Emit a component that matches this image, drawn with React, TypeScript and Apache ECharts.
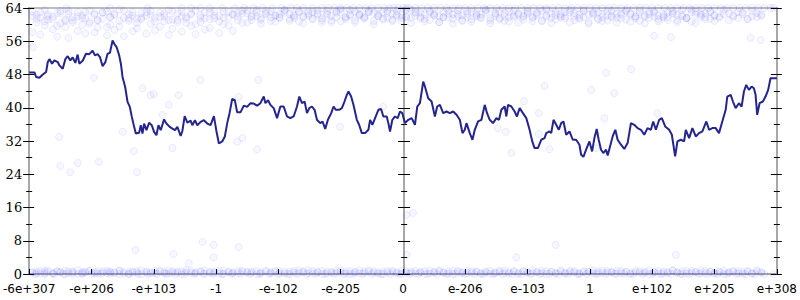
import React, { useEffect, useRef } from "react";
import * as echarts from "echarts";

// X axis tick labels (positions 0..12)
const X_LABELS = ["-6e+307", "-e+206", "-e+103", "-1", "-e-102", "-e-205", "0", "e-206", "e-103", "1", "e+102", "e+205", "e+308"];
const Y_MIN = 0;
const Y_MAX = 64;
const Y_STEP = 8;

// Dark line, in segments of [x, y]
const lineSeg1: number[][] = [
  [0, 48.5], [0.085, 48.5], [0.112, 47.4], [0.165, 47.2], [0.219, 48], [0.272, 48.6], [0.299, 51], [0.325, 51.7], [0.368, 50.6], [0.405, 51.4],
  [0.459, 51], [0.485, 50.2], [0.539, 49.4], [0.581, 51.7], [0.619, 52.4], [0.661, 51.4], [0.699, 52.1], [0.741, 50.8], [0.779, 52.8], [0.805, 50.6],
  [0.859, 51.3], [0.912, 53], [0.965, 52.9], [1.019, 53.7], [1.056, 52.6], [1.099, 52.9], [1.136, 52.2], [1.179, 50], [1.221, 50.9], [1.259, 53],
  [1.296, 53.2], [1.339, 56.2], [1.365, 55.4], [1.403, 54.6], [1.445, 52.6], [1.472, 50.6], [1.499, 47.4], [1.541, 45], [1.579, 41.4], [1.616, 40.2],
  [1.648, 37.8], [1.685, 35.4], [1.712, 33.8], [1.765, 34], [1.792, 35.8], [1.819, 33.8], [1.845, 36.2], [1.883, 34.6], [1.925, 36.4], [1.968, 35.8],
  [2.005, 34.2], [2.043, 33.4], [2.075, 35.8], [2.112, 34.6], [2.165, 37.2], [2.203, 36.2], [2.256, 35.4], [2.299, 35], [2.341, 34.6], [2.379, 35.4],
  [2.432, 33.2], [2.459, 34.4], [2.496, 38], [2.539, 36.4], [2.592, 36.9], [2.619, 35.8], [2.661, 37], [2.699, 35.8], [2.752, 36.6], [2.805, 37],
  [2.859, 36.2], [2.912, 35.8], [2.965, 38], [3.003, 34.6], [3.045, 31.4],
];
const lineSeg2: number[][] = [
  [3.099, 31.9], [3.141, 33.1], [3.179, 36.3], [3.216, 38.7], [3.259, 42.1], [3.301, 41.8], [3.339, 38.9], [3.392, 38.9], [3.445, 40.5], [3.499, 40.2],
  [3.552, 41.1], [3.605, 41], [3.659, 40.5], [3.712, 41.1], [3.765, 42.7], [3.792, 41.1], [3.835, 41.8], [3.872, 40.7], [3.925, 39.9], [3.979, 37.5],
  [4.032, 40.3], [4.085, 40.3], [4.139, 37.9], [4.192, 37.5], [4.245, 37.9], [4.299, 40.3], [4.336, 42.7], [4.379, 41.1], [4.421, 41.5], [4.459, 38.7],
  [4.496, 39.9], [4.539, 40.3], [4.581, 39.5], [4.619, 37.1], [4.672, 36.3], [4.709, 36.7], [4.752, 34.9], [4.795, 37.1], [4.848, 38.7], [4.885, 40.3],
  [4.923, 39.5], [4.976, 39.5], [5.019, 39.9], [5.061, 41.5], [5.099, 43.1], [5.125, 43.9], [5.168, 42.7], [5.205, 40.7], [5.259, 37.1], [5.296, 35.9],
  [5.339, 33.9], [5.392, 33.9], [5.445, 34.7], [5.472, 37.1], [5.509, 35.9], [5.552, 37.5], [5.605, 39.5], [5.648, 39.7], [5.685, 37.9], [5.739, 37.9],
  [5.765, 36.3], [5.792, 34.3], [5.829, 37.1], [5.872, 37.9], [5.915, 37.5], [5.952, 39.1], [5.989, 38.7],
];
const lineSeg3: number[][] = [
  [6.032, 36.3], [6.085, 37.1], [6.139, 37.5], [6.192, 35.9], [6.229, 40.3], [6.272, 41.1], [6.325, 46.3], [6.352, 45.1], [6.405, 42.3], [6.459, 41.5],
  [6.512, 37.9], [6.549, 40.3], [6.592, 40.7], [6.645, 38.7], [6.699, 39.1], [6.752, 38.7], [6.805, 39.1], [6.859, 38.3], [6.912, 37.1], [6.955, 33.9],
  [6.992, 34.7], [7.019, 36.3], [7.072, 33.9], [7.115, 32.3], [7.152, 34.7], [7.205, 36.7], [7.259, 37.1], [7.312, 40.7], [7.349, 38.7], [7.392, 37.1],
  [7.445, 36.3], [7.499, 37.5], [7.541, 37.1], [7.579, 39.5], [7.632, 40.3], [7.659, 37.9], [7.685, 40.7], [7.739, 40.3], [7.792, 39.1], [7.829, 37.9],
  [7.872, 39.9], [7.925, 38.7], [7.979, 37.5], [8.032, 34.7], [8.075, 31.9], [8.112, 30.3], [8.165, 30.3], [8.219, 32.3], [8.272, 32.7], [8.299, 33.9],
  [8.352, 34.3], [8.379, 33.9], [8.416, 37.1], [8.459, 35.9], [8.501, 34.7], [8.539, 36.3], [8.576, 36.7], [8.619, 33.5], [8.672, 34.3], [8.725, 32.3],
  [8.779, 32.3], [8.832, 31.1], [8.859, 28.7], [8.896, 28.2], [8.939, 29.9], [8.992, 31.9], [9.035, 29.5], [9.072, 32.7],
];
const lineSeg4: number[][] = [
  [9.109, 34.9], [9.141, 32.3], [9.179, 29.9], [9.216, 29.1], [9.259, 29.9], [9.285, 28.5], [9.323, 30.7], [9.365, 33.1], [9.408, 34.7], [9.445, 32.3],
  [9.499, 31.1], [9.552, 30.1], [9.605, 31.5], [9.659, 36.3], [9.712, 35.9], [9.765, 35.1], [9.819, 34.7], [9.872, 33.5], [9.925, 35.1], [9.979, 34.7],
  [10.016, 36.7], [10.059, 34.7], [10.112, 37.1], [10.155, 37.5], [10.208, 35.5], [10.272, 34.7], [10.315, 33.5], [10.368, 28.3], [10.405, 31.9], [10.459, 32.3],
  [10.512, 31.9], [10.539, 34.7], [10.592, 32.7], [10.645, 35.1], [10.699, 33.1], [10.752, 33.9], [10.805, 34.3], [10.869, 36.7], [10.912, 34.7], [10.965, 35.1],
  [11.019, 35.1], [11.072, 33.9], [11.125, 36.7], [11.179, 39.5], [11.205, 42.7], [11.259, 43.1], [11.296, 41.5], [11.339, 39.9], [11.392, 41.1], [11.435, 40.3],
  [11.472, 43.9], [11.509, 45.5], [11.552, 44.3], [11.595, 45.1], [11.632, 44.7], [11.659, 43.1], [11.685, 38.3], [11.723, 41.1], [11.776, 41.5], [11.819, 42.7],
  [11.861, 44.3], [11.899, 47.1], [11.952, 47.1], [12, 47.1],
];

// Faint scatter cloud: x positions shared by the band rows
const bandX = [
  0.05, 0.12, 0.18, 0.25, 0.3, 0.38, 0.45, 0.5, 0.58, 0.63, 0.7, 0.78, 0.85, 0.9, 0.97, 1.05, 1.1, 1.18, 1.25, 1.3,
  1.37, 1.45, 1.52, 1.6, 1.66, 1.73, 1.8, 1.88, 1.95, 2.02, 2.1, 2.17, 2.24, 2.3, 2.38, 2.45, 2.52, 2.6, 2.67, 2.75,
  2.82, 2.9, 2.97, 3.05, 3.12, 3.2, 3.27, 3.35, 3.42, 3.5, 3.57, 3.65, 3.72, 3.8, 3.88, 3.95, 4.02, 4.1, 4.18, 4.25,
  4.33, 4.4, 4.48, 4.55, 4.63, 4.7, 4.78, 4.85, 4.93, 5.0, 5.08, 5.15, 5.23, 5.3, 5.38, 5.45, 5.53, 5.6, 5.68, 5.75,
  5.83, 5.9, 5.98, 6.05, 6.13, 6.2, 6.28, 6.35, 6.43, 6.5, 6.58, 6.65, 6.73, 6.8, 6.88, 6.95, 7.03, 7.1, 7.18, 7.25,
  7.33, 7.4, 7.48, 7.55, 7.63, 7.7, 7.78, 7.85, 7.93, 8.0, 8.08, 8.15, 8.23, 8.3, 8.38, 8.45, 8.53, 8.6, 8.68, 8.75,
  8.83, 8.9, 8.98, 9.05, 9.13, 9.2, 9.28, 9.35, 9.43, 9.5, 9.58, 9.65, 9.73, 9.8, 9.88, 9.95, 10.03, 10.1, 10.18, 10.25,
  10.33, 10.4, 10.48, 10.55, 10.63, 10.7, 10.78, 10.85, 10.93, 11.0, 11.08, 11.15, 11.23, 11.3, 11.38, 11.45, 11.53, 11.6, 11.68, 11.75,
];
const topBandA = [
  62.1, 61.4, 63.0, 60.8, 62.5, 61.9, 59.7, 62.8, 61.2, 63.3, 60.5, 62.0, 61.6, 63.1, 60.2, 62.4, 61.0, 62.9, 59.4, 61.8,
  62.6, 60.9, 63.4, 61.5, 62.2, 60.4, 61.7, 63.0, 62.3, 60.7, 61.9, 62.7, 61.1, 63.2, 60.6, 62.0, 61.4, 62.8, 60.1, 61.6,
  62.9, 61.3, 62.2, 60.8, 63.1, 61.7, 62.4, 61.0, 62.6, 60.5, 61.9, 63.0, 61.2, 62.5, 60.9, 62.1, 61.6, 62.9, 61.4, 62.3,
  60.7, 62.0, 63.2, 61.5, 62.7, 61.1, 62.4, 60.6, 61.8, 62.9, 61.3, 62.2, 61.0, 62.6, 61.7, 63.0, 60.9, 62.1, 61.5, 62.8,
  61.2, 62.4, 60.8, 62.0, 61.6, 63.1, 61.9, 62.5, 61.1, 62.2, 60.6, 61.8, 62.7, 61.4, 62.0, 60.9, 62.6, 61.3, 62.3, 61.7,
  62.9, 61.0, 62.1, 61.5, 62.8, 60.7, 61.9, 62.4, 61.2, 62.6, 61.6, 62.2, 60.8, 61.9, 62.7, 61.3, 62.0, 61.5, 62.9, 61.1,
  62.4, 61.8, 60.6, 62.3, 61.4, 62.7, 61.0, 62.1, 61.7, 62.8, 61.2, 62.5, 61.9, 60.9, 62.2, 61.6, 62.9, 61.3, 62.0, 61.8,
  62.6, 61.1, 62.3, 61.5, 60.7, 62.4, 61.9, 62.8, 61.4, 62.1, 61.7, 62.5, 61.0, 62.2, 61.6, 62.9, 61.3, 62.0, 61.8, 62.4,
];
const topBandB = [
  58.2, 60.5, 57.6, 59.8, 61.2, 58.9, 57.1, 60.3, 59.4, 56.8, 61.0, 58.5, 59.9, 57.9, 60.7, 58.1, 59.3, 61.4, 57.4, 60.0,
  58.7, 59.6, 57.2, 60.9, 58.4, 59.1, 61.3, 57.8, 60.2, 58.6, 59.5, 60.8, 57.5, 59.0, 61.1, 58.3, 60.4, 59.7, 57.7, 60.6,
  58.8, 59.2, 61.5, 58.0, 60.1, 59.8, 58.5, 62.8, 60.4, 63.5, 61.1, 62.0, 60.2, 63.3, 61.8, 60.7, 62.5, 63.6, 60.9, 61.6,
  63.0, 60.3, 62.2, 61.3, 63.4, 60.6, 62.7, 61.0, 63.2, 60.8, 61.9, 63.5, 60.5, 62.4, 61.4, 63.1, 60.1, 62.6, 61.2, 63.3,
  60.9, 62.1, 61.7, 63.6, 60.4, 62.9, 61.5, 60.8, 63.0, 62.3, 60.6, 61.8, 63.4, 60.2, 62.5, 61.1, 63.2, 60.7, 62.0, 61.6,
  63.5, 60.3, 62.8, 61.3, 60.9, 63.1, 62.2, 60.5, 61.9, 63.3, 60.8, 62.6, 61.0, 63.6, 60.4, 62.3, 61.7, 63.0, 60.6, 62.1,
  61.4, 63.4, 60.2, 62.7, 61.2, 60.9, 63.2, 61.8, 60.5, 62.4, 63.5, 60.7, 61.5, 62.9, 60.3, 63.1, 61.9, 60.8, 62.5, 61.1,
  63.3, 60.6, 62.0, 61.6, 63.6, 60.4, 62.8, 61.3, 63.0, 60.9,
];
const topBandC = [
  63.1, 62.4, 61.7, 63.5, 62.0, 61.3, 62.8, 63.3, 60.9, 62.6, 61.8, 63.0, 62.2, 61.5, 63.4, 62.7, 61.1, 62.9, 63.2, 61.9,
  62.3, 63.6, 61.6, 62.5, 63.0, 61.4, 62.8, 62.1, 63.3, 61.7, 62.9, 62.0, 63.5, 61.2, 62.6, 63.1, 61.8, 62.4, 63.4, 62.2,
  61.5, 62.9, 63.2, 62.0, 61.7, 63.0, 62.5, 61.9, 63.3, 62.7, 62.1, 63.5, 61.6, 62.8, 63.1, 62.3, 61.8, 63.4, 62.6, 62.0,
  63.2, 61.9, 62.7, 63.0, 62.4, 61.5, 63.3, 62.1, 62.9, 63.6, 61.7, 62.5, 63.1, 62.2, 61.9, 63.4, 62.8, 62.0, 63.0, 61.6,
  62.6, 63.3, 62.3, 61.8, 63.5, 62.1, 62.9, 61.4, 63.2, 62.7, 62.0, 63.0, 61.7, 62.5, 63.4, 62.2, 61.9, 63.1, 62.8, 62.4,
  63.6, 61.5, 62.7, 63.2, 62.0, 61.8, 63.3, 62.6, 62.1, 63.0, 61.9, 62.9, 63.4, 62.3, 61.6, 63.1, 62.5, 62.0, 63.5, 62.8,
  61.7, 63.2, 62.4, 62.9, 63.0, 61.8, 62.2, 63.3, 62.6, 61.5, 63.1, 62.7, 62.0, 63.4, 61.9, 62.5, 63.2, 62.1, 61.7, 63.0,
  62.8, 62.3, 63.5, 61.6, 62.9, 63.1, 62.4, 61.8, 63.3, 62.2, 62.0, 63.6, 62.7, 61.9, 63.0, 62.5, 61.4, 63.2, 62.8, 62.1,
];
const bottomBandA = [
  0.3, 0.6, 0.1, 0.8, 0.4, 0.2, 0.7, 0.5, 0.0, 0.6, 0.4, 0.9, 0.2, 0.5, 0.7, 0.1, 0.6, 0.3, 0.8, 0.4,
  0.2, 0.7, 0.5, 0.0, 0.6, 0.3, 0.9, 0.4, 0.1, 0.7, 0.5, 0.2, 0.8, 0.3, 0.6, 0.0, 0.4, 0.7, 0.2, 0.5,
  0.9, 0.3, 0.6, 0.1, 0.8, 0.4, 0.2, 0.7, 0.5, 0.3, 0.6, 0.0, 0.4, 0.8, 0.2, 0.5, 0.7, 0.1, 0.6, 0.3,
  0.9, 0.4, 0.2, 0.7, 0.5, 0.0, 0.6, 0.3, 0.8, 0.4, 0.1, 0.7, 0.5, 0.2, 0.6, 0.9, 0.3, 0.4, 0.0, 0.7,
  0.5, 0.2, 0.8, 0.3, 0.6, 0.1, 0.4, 0.7, 0.2, 0.5, 0.9, 0.3, 0.6, 0.0, 0.8, 0.4, 0.2, 0.7, 0.5, 0.3,
  0.6, 0.1, 0.4, 0.8, 0.2, 0.5, 0.7, 0.0, 0.6, 0.3, 0.9, 0.4, 0.2, 0.7, 0.5, 0.1, 0.6, 0.3, 0.8, 0.4,
  0.0, 0.7, 0.5, 0.2, 0.6, 0.9, 0.3, 0.4, 0.1, 0.7, 0.5, 0.2, 0.8, 0.3, 0.6, 0.0, 0.4, 0.7, 0.2, 0.5,
  0.9, 0.3, 0.6, 0.1, 0.8, 0.4, 0.2, 0.7, 0.5, 0.3, 0.6, 0.0, 0.4, 0.8, 0.2, 0.5, 0.7, 0.1, 0.6, 0.3,
];
const bottomBandB = [
  0.5, 0.2, 0.7, 0.3, 0.9, 0.1, 0.6, 0.4, 0.8, 0.2, 0.6, 0.0, 0.5, 0.3, 0.8, 0.4, 0.1, 0.7, 0.2, 0.6,
  0.4, 0.9, 0.1, 0.5, 0.3, 0.7, 0.0, 0.6, 0.4, 0.2, 0.8, 0.5, 0.1, 0.7, 0.3, 0.6, 0.9, 0.2, 0.4, 0.7,
  0.1, 0.5, 0.3, 0.8, 0.0, 0.6, 0.4, 0.2, 0.9, 0.5, 0.3, 0.7, 0.1, 0.6, 0.4, 0.8, 0.2, 0.5, 0.0, 0.7,
  0.3, 0.6, 0.9, 0.1, 0.4, 0.7, 0.2, 0.5, 0.3, 0.8, 0.6, 0.0, 0.4, 0.9, 0.2, 0.5, 0.7, 0.1, 0.6, 0.3,
  0.8, 0.4, 0.1, 0.6, 0.2, 0.7, 0.5, 0.0, 0.9, 0.3, 0.6, 0.4, 0.1, 0.8, 0.5, 0.2, 0.7, 0.3, 0.6, 0.0,
  0.4, 0.8, 0.2, 0.5, 0.9, 0.1, 0.6, 0.3, 0.7, 0.4, 0.2, 0.5, 0.8, 0.0, 0.6, 0.3, 0.9, 0.1, 0.5, 0.7,
  0.2, 0.4, 0.6, 0.9, 0.1, 0.3, 0.7, 0.5, 0.8, 0.2, 0.6, 0.0, 0.4, 0.7, 0.3, 0.9, 0.5, 0.1, 0.6, 0.2,
  0.8, 0.4, 0.0, 0.7, 0.3, 0.5, 0.9, 0.2, 0.6, 0.1, 0.4, 0.8, 0.3, 0.5, 0.7, 0.0, 0.6, 0.2, 0.9, 0.4,
];
// points sitting exactly on the top (64) and bottom (0) edges
const topEdgeX = [
  0.6, 1.3, 1.9, 2.45, 2.6, 2.75, 2.9, 3.1, 3.3, 3.45, 3.6, 3.75, 3.9, 4.05, 4.2, 4.3, 4.4, 4.55, 4.7, 4.8,
  4.9, 5.0, 5.1, 5.2, 5.3, 5.4, 5.5, 5.6, 5.7, 5.78, 5.85, 5.92, 6.0, 6.05, 6.1, 6.2, 6.3, 6.4, 6.5, 6.6,
  6.7, 6.8, 6.9, 7.0, 7.1, 7.2, 7.3, 7.4, 7.5, 7.6, 7.7, 7.8, 7.9, 8.0, 8.1, 8.2, 8.3, 8.4, 8.5, 8.6,
  8.7, 8.8, 8.9, 9.0, 9.1, 9.2, 9.3, 9.4, 9.5, 9.6, 9.7, 9.8, 9.9, 10.0, 10.1, 10.2, 10.3, 10.4, 10.5, 10.6,
  10.7, 10.8, 10.9, 11.0, 11.1, 11.2, 11.3, 11.4, 11.5, 11.6, 11.7, 11.8, 11.9, 11.95,
];
const bottomEdgeX = [
  0.1, 0.25, 0.4, 0.55, 0.7, 0.85, 1.0, 1.15, 1.3, 1.45, 1.6, 1.75, 1.9, 2.05, 2.2, 2.35, 2.5, 2.65, 2.8, 2.95,
  3.1, 3.25, 3.4, 3.55, 3.7, 3.85, 4.0, 4.15, 4.3, 4.45, 4.6, 4.75, 4.9, 5.05, 5.2, 5.35, 5.5, 5.65, 5.8, 5.95,
  6.1, 6.25, 6.4, 6.55, 6.7, 6.85, 7.0, 7.15, 7.3, 7.45, 7.6, 7.75, 7.9, 8.05, 8.2, 8.35, 8.5, 8.65, 8.8, 8.95,
  9.1, 9.25, 9.4, 9.55, 9.7, 9.85, 10.0, 10.15, 10.3, 10.45, 10.6, 10.75, 10.9, 11.05, 11.2, 11.35, 11.5, 11.65, 11.8, 11.95,
];
// sparse points away from the bands
const midPoints: number[][] = [
  [1.04, 47.2], [2.75, 46.7], [1.82, 44.7], [2.0, 43.3], [0.48, 33], [1.5, 34.2], [1.68, 29.6], [3.68, 46.7], [3.36, 42.6], [3.34, 31.8],
  [3.42, 32.7], [3.66, 30], [4.99, 35.4], [5.68, 40.2], [8.27, 45.2], [9.02, 44.3], [7.94, 41.6], [8.18, 38.7], [7.52, 35.1], [7.65, 34.2],
  [8.18, 33.7], [7.74, 29.1], [8.35, 30], [9.26, 48.4], [9.66, 49.3], [9.39, 43.5], [10.08, 38.7], [9.23, 37.5], [9.1, 30.3], [10.3, 57],
  [10.03, 57.3], [11.74, 56.3], [11.58, 56.8], [6.06, 14.2], [6.16, 14.7], [1.71, 5.8], [2.32, 4.8], [2.78, 7.7], [2.96, 7], [2.96, 4],
  [3.36, 6.5], [2.56, 2.6], [6.06, 4.6], [7.82, 4], [8.45, 7], [10.38, 4.6], [0.5, 26], [0.66, 24.5], [0.78, 26.7], [1.12, 27],
  [1.73, 24.5], [1.95, 43], [2.14, 38.3], [2.24, 40.7], [2.3, 30.3], [2.4, 43], [0.06, 54.6],
];

const GRAY = "#a8a8a8";
const LINE_COLOR = "#25258f";

function yAxisDef(position: "left" | "right", offset: number, inside: boolean, labels: boolean, tickLen: number) {
  return {
    type: "value",
    min: Y_MIN,
    max: Y_MAX,
    interval: Y_STEP,
    position,
    offset,
    axisLine: { show: true, onZero: false, lineStyle: { color: GRAY, width: 2 } },
    axisTick: { show: true, inside, length: tickLen, lineStyle: { color: "#000", width: 1 } },
    minorTick: { show: true, splitNumber: 2, length: 3, lineStyle: { color: "#000", width: 1 } },
    axisLabel: {
      show: labels,
      margin: 7,
      color: "#000",
      fontFamily: "DejaVu Serif",
      fontSize: 13,
    },
    splitLine: { show: false },
    minorSplitLine: { show: false },
  };
}

export default function App() {
  const ref = useRef<HTMLDivElement>(null);
  useEffect(() => {
    document.body.style.margin = "0";
    if (!ref.current) return;
    const chart = echarts.init(ref.current, undefined, { renderer: "svg" });

    const scatterPts: number[][] = [];
    bandX.forEach((x, i) => {
      [topBandA, topBandB, topBandC, bottomBandA, bottomBandB].forEach((row) => {
        if (row[i] !== undefined) scatterPts.push([x, row[i]]);
      });
    });
    topEdgeX.forEach((x) => scatterPts.push([x, Y_MAX]));
    bottomEdgeX.forEach((x) => scatterPts.push([x, Y_MIN]));
    midPoints.forEach((p) => scatterPts.push(p));

    const lineData = [...lineSeg1, ...lineSeg2, ...lineSeg3, ...lineSeg4];

    chart.setOption({
      animation: false,
      grid: { left: 28, right: 22, top: 8, bottom: 26, containLabel: false },
      xAxis: [
        {
          type: "value",
          min: 0,
          max: 12,
          interval: 1,
          position: "bottom",
          axisLine: { show: true, onZero: false, lineStyle: { color: GRAY, width: 2 } },
          axisTick: { show: true, inside: true, length: 5, lineStyle: { color: "#000", width: 1 } },
          axisLabel: {
            formatter: (v: number) => X_LABELS[Math.round(v)] ?? "",
            color: "#000",
            fontFamily: "DejaVu Sans",
            fontSize: 12,
            margin: 9,
            showMinLabel: true,
            showMaxLabel: true,
          },
          splitLine: { show: false },
        },
        {
          type: "value",
          min: 0,
          max: 12,
          position: "top",
          axisLine: { show: true, onZero: false, lineStyle: { color: GRAY, width: 1.5 } },
          axisTick: { show: false },
          axisLabel: { show: false },
          splitLine: { show: false },
        },
      ],
      yAxis: [
        yAxisDef("left", 0, false, true, 6),
        yAxisDef("left", 0, true, false, 5),
        yAxisDef("left", -375, false, false, 6),
        yAxisDef("left", -375, true, false, 6),
        yAxisDef("right", 0, false, false, 5),
        yAxisDef("right", 0, true, false, 6),
      ],
      series: [
        {
          type: "scatter",
          xAxisIndex: 0,
          yAxisIndex: 0,
          symbol: "circle",
          symbolSize: 7,
          silent: true,
          itemStyle: {
            color: "rgba(50,50,255,0.05)",
            borderColor: "rgba(50,50,255,0.11)",
            borderWidth: 1,
          },
          data: scatterPts,
          z: 1,
        },
        {
          type: "line",
          xAxisIndex: 0,
          yAxisIndex: 0,
          showSymbol: false,
          silent: true,
          lineStyle: { color: LINE_COLOR, width: 2 },
          data: lineData,
          z: 3,
        },
      ],
    });
    return () => chart.dispose();
  }, []);
  return <div ref={ref} style={{ width: 800, height: 300 }} />;
}
